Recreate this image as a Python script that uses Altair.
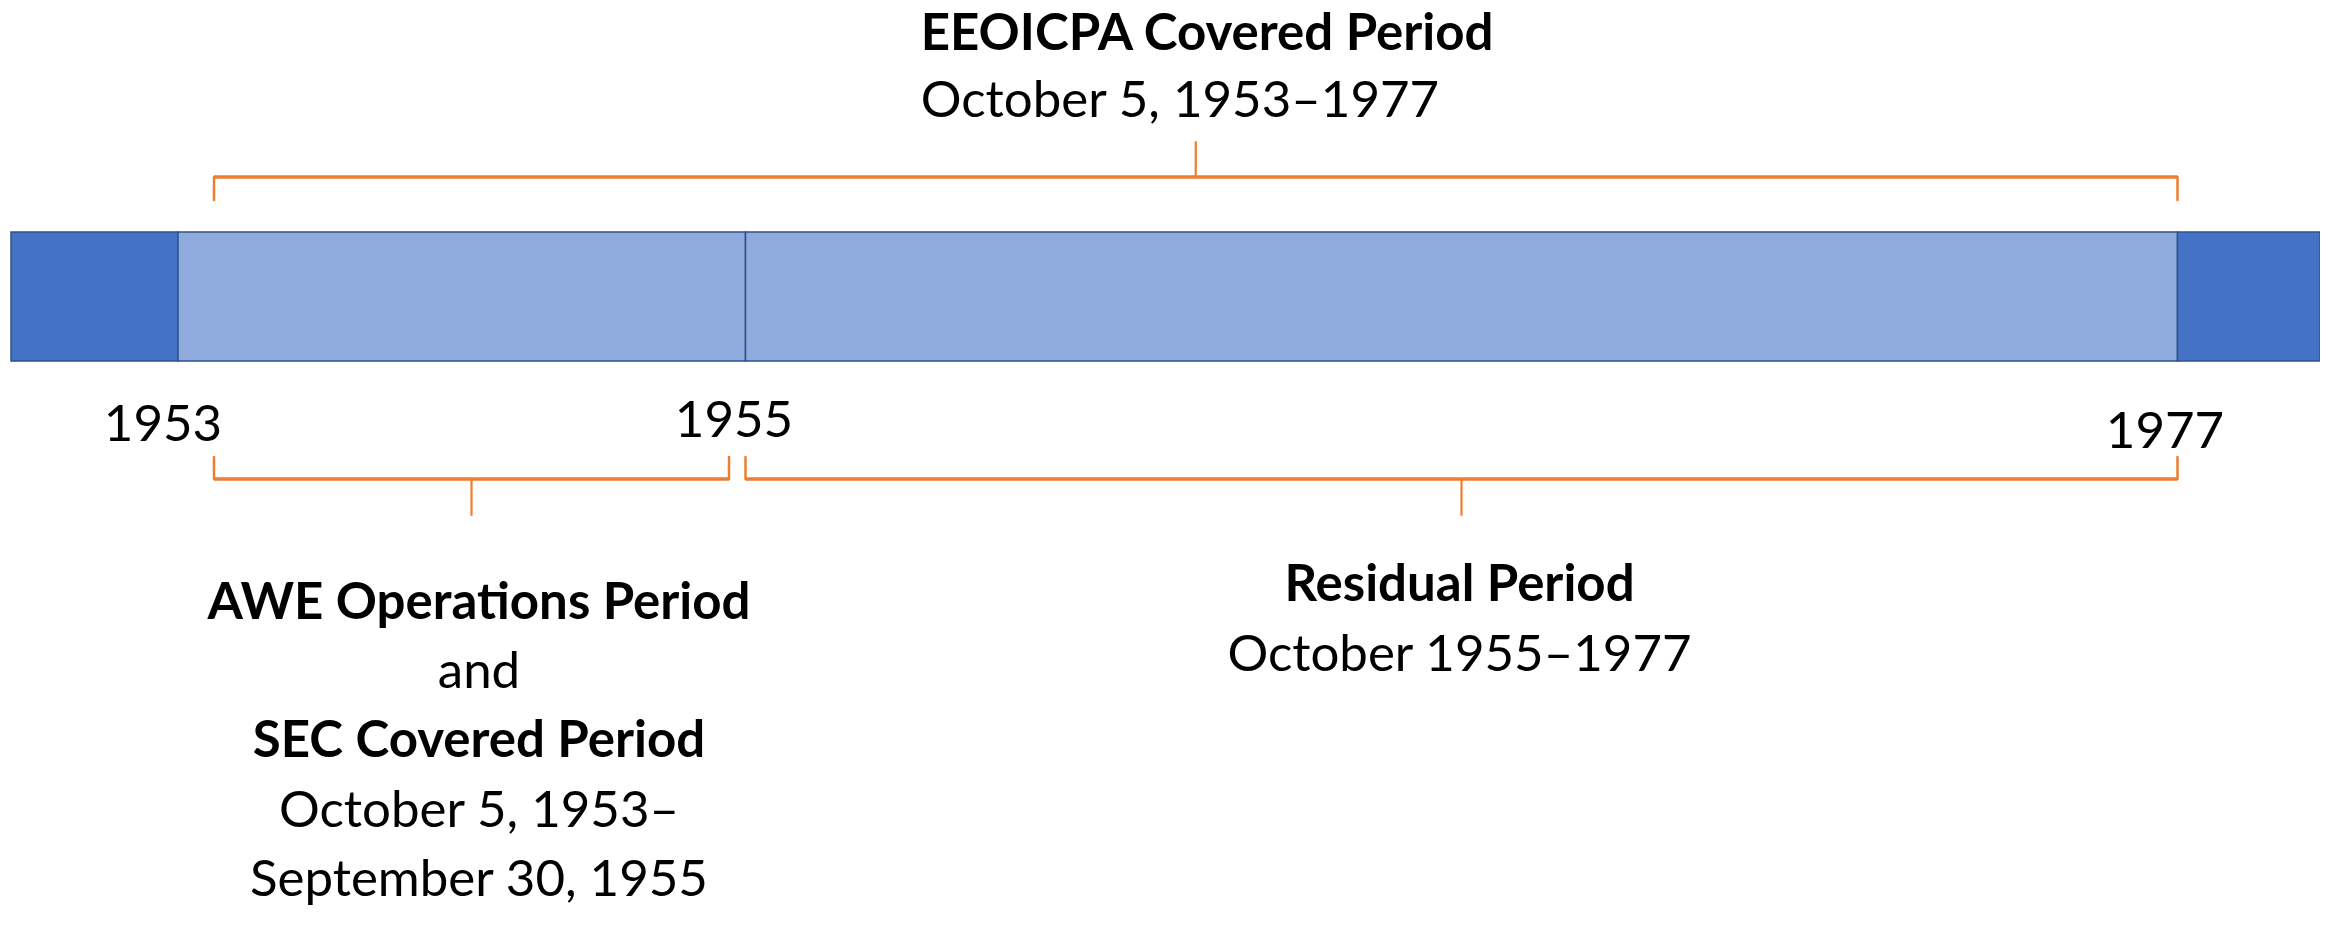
import altair as alt
import pandas as pd
from datetime import date


def dec_year(iso):
    y, m, d = (int(p) for p in iso.split("-"))
    return y + (date(y, m, d) - date(y, 1, 1)).days / (date(y + 1, 1, 1) - date(y, 1, 1)).days


# ---------------- data ----------------
seg_names = ["Before coverage", "AWE Operations / SEC Period", "Residual Period", "After coverage"]
seg_start = ["1952-01-01", "1953-01-01", "1955-10-01", "1978-01-01"]
seg_end = ["1953-01-01", "1955-10-01", "1978-01-01", "1979-01-01"]
seg_kind = ["outside", "covered", "covered", "outside"]

brace_names = ["EEOICPA Covered Period", "AWE Operations Period", "Residual Period"]
brace_start = ["1953-10-05", "1953-10-05", "1955-10-01"]
brace_end = ["1978-01-01", "1955-09-30", "1978-01-01"]
brace_tier = ["top", "bottom", "bottom"]

year_labels = ["1953", "1955", "1977"]
year_dates = ["1953-01-01", "1955-10-01", "1978-01-01"]

eeoicpa_lines = [("EEOICPA Covered Period", True), ("October 5, 1953\u20131977", False)]
awe_lines = [
    ("AWE Operations Period", True),
    ("and", False),
    ("SEC Covered Period", True),
    ("October 5, 1953\u2013", False),
    ("September 30, 1955", False),
]
residual_lines = [("Residual Period", True), ("October 1955\u20131977", False)]

# ---------------- styles / layout ----------------
DARK = "#4472C4"
LIGHT = "#8FAADC"
BORDER = "#2F528F"
ORANGE = "#ED7D31"
FONT = "Lato"
FS = 51

# schematic (piecewise) time axis: anchor dates -> pixel positions
anchor_dates = ["1952-01-01", "1953-01-01", "1953-10-05", "1955-09-30", "1955-10-01", "1978-01-01", "1979-01-01"]
anchor_px = [3, 170, 206, 721, 737.5, 2169.5, 2312]
x_scale = alt.Scale(domain=[dec_year(d) for d in anchor_dates], range=anchor_px, nice=False, zero=False)

seg_df = pd.DataFrame({
    "segment": seg_names,
    "start": [dec_year(d) for d in seg_start],
    "end": [dec_year(d) for d in seg_end],
    "kind": seg_kind,
})
brace_df = pd.DataFrame({
    "name": brace_names,
    "start": [dec_year(d) for d in brace_start],
    "end": [dec_year(d) for d in brace_end],
    "tier": brace_tier,
})
year_df = pd.DataFrame({"label": year_labels, "pos": [dec_year(d) for d in year_dates]})

CENTER = "(scale('x', datum.start) + scale('x', datum.end)) / 2"

bars = alt.Chart(seg_df).mark_rect(stroke=BORDER, strokeWidth=1.5).encode(
    x=alt.X("start:Q", scale=x_scale, axis=None),
    x2="end:Q",
    y=alt.value(224),
    y2=alt.value(353),
    color=alt.Color("kind:N", scale=alt.Scale(domain=["outside", "covered"], range=[DARK, LIGHT]), legend=None),
)

layers = [bars]

brace_geom = {
    # tier: (line y, tip y, center tip y)
    "top": (169, 192, 134),
    "bottom": (471, 449, 507),
}
for tier, (ly, ty, cy) in brace_geom.items():
    base = alt.Chart(brace_df).transform_filter(alt.datum.tier == tier)
    layers.append(
        base.mark_rule(color=ORANGE, strokeWidth=3.5).encode(
            x=alt.X("start:Q", scale=x_scale, axis=None), x2="end:Q", y=alt.value(ly)
        )
    )
    layers.append(
        base.transform_fold(["start", "end"], as_=["edge", "pos"]).mark_rule(
            color=ORANGE, strokeWidth=2.5, strokeCap="round"
        ).encode(x=alt.X("pos:Q", scale=x_scale, axis=None), y=alt.value(ly), y2=alt.value(ty))
    )
    layers.append(
        base.mark_rule(color=ORANGE, strokeWidth=2.2, strokeCap="round", x={"expr": CENTER}).encode(
            y=alt.value(ly), y2=alt.value(cy)
        )
    )

# year labels
year_style = {"1953": (-15, 433), "1955": (-11.5, 429), "1977": (-12.5, 440)}
for lab, (dx, by) in year_style.items():
    layers.append(
        alt.Chart(year_df).transform_filter(alt.datum.label == lab).mark_text(
            font=FONT, fontSize=FS, color="#000000", align="center", baseline="alphabetic", dx=dx
        ).encode(x=alt.X("pos:Q", scale=x_scale, axis=None), y=alt.value(by), text="label:N")
    )


def text_block(brace_name, lines, first_baseline, line_height, align, dx):
    out = []
    base = alt.Chart(brace_df).transform_filter(alt.datum.name == brace_name)
    for i, (txt, bold) in enumerate(lines):
        out.append(
            base.mark_text(
                font=FONT,
                fontSize=FS,
                fontWeight="bold" if bold else "normal",
                color="#000000",
                align=align,
                baseline="alphabetic",
                dx=dx,
                x={"expr": CENTER},
            ).encode(y=alt.value(first_baseline + i * line_height), text=alt.value(txt))
        )
    return out


layers += text_block("EEOICPA Covered Period", eeoicpa_lines, 42, 67, "left", -275)
layers += text_block("AWE Operations Period", awe_lines, 611, 69.2, "center", 7.5)
layers += text_block("Residual Period", residual_lines, 593, 70, "center", -2)

chart = (
    alt.layer(*layers)
    .properties(width=2312, height=924, padding=0, autosize=alt.AutoSizeParams(type="none"), background="white")
    .configure_view(stroke=None)
)

chart.save("out.html", embed_options={"renderer": "svg", "actions": False})
